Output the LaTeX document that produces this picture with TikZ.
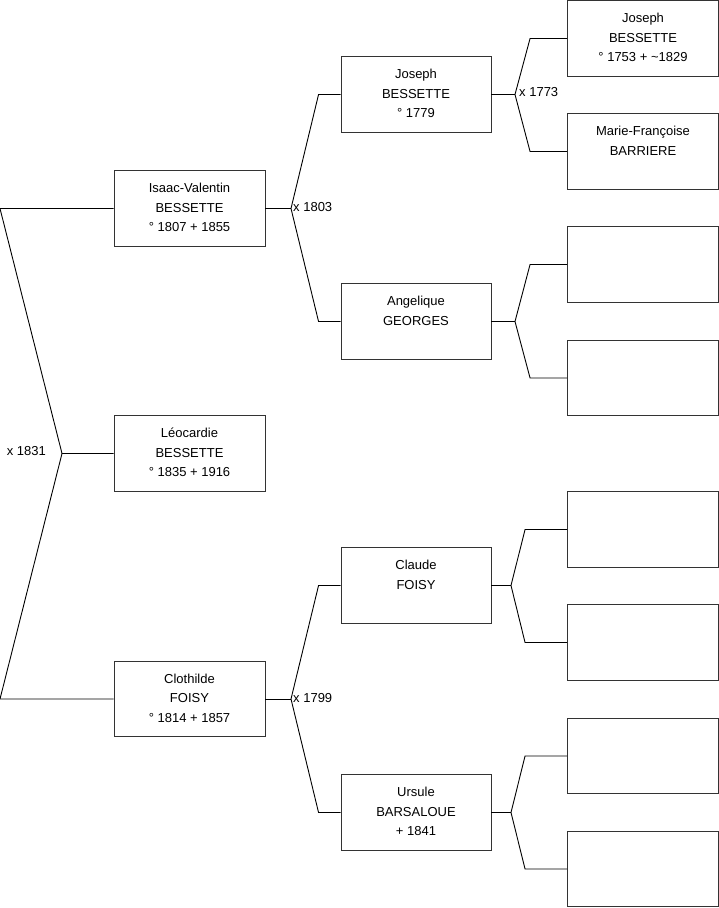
\documentclass[tikz,border=0pt]{standalone}
\usepackage{fontspec}
\setmainfont{Liberation Sans}
\newcommand{\fl}{\rule{0pt}{10pt}}
\begin{document}
\begin{tikzpicture}[x=1pt,y=-1pt,
  pbox/.style={draw=black!80,line width=0.9pt,rectangle,inner sep=0pt,minimum height=75.5pt},
  cw/.style={pbox,minimum width=151pt},
  ptext/.style={anchor=north,align=center,inner sep=0pt,yshift=-12pt,font=\fontsize{13}{19.5}\selectfont},
  conn/.style={draw=black,line width=0.9pt},
  mlabel/.style={font=\fontsize{13}{15}\selectfont,inner sep=0pt}]
\useasboundingbox (0,0) rectangle (719,908);
% column 1
\node[cw] (isaac) at (189.5,208.5) {};
\node[ptext] (isaacT) at (isaac.north) {\fl Isaac-Valentin\\BESSETTE\\° 1807 + 1855};
\node[cw] (leo) at (189.5,453.5) {};
\node[ptext] (leoT) at (leo.north) {\fl Léocardie\\BESSETTE\\° 1835 + 1916};
\node[cw] (clo) at (189.5,699) {};
\node[ptext] (cloT) at (clo.north) {\fl Clothilde\\FOISY\\° 1814 + 1857};
% column 2
\node[pbox,minimum width=150pt] (jos) at (416,94.5) {};
\node[ptext] (josT) at (jos.north) {\fl Joseph\\BESSETTE\\° 1779};
\node[pbox,minimum width=150pt] (ang) at (416,321.5) {};
\node[ptext] (angT) at (ang.north) {\fl Angelique\\GEORGES};
\node[pbox,minimum width=150pt] (cla) at (416,585.5) {};
\node[ptext] (claT) at (cla.north) {\fl Claude\\FOISY};
\node[pbox,minimum width=150pt] (urs) at (416,812.5) {};
\node[ptext] (ursT) at (urs.north) {\fl Ursule\\BARSALOUE\\+ 1841};
% column 3
\node[cw] (g1) at (643,38.5) {};
\node[ptext] (g1T) at (g1.north) {\fl Joseph\\BESSETTE\\° 1753 + \textasciitilde 1829};
\node[cw] (g2) at (643,151.5) {};
\node[ptext] (g2T) at (g2.north) {\fl Marie-Françoise\\BARRIERE};
\node[cw] (g3) at (643,264.5) {};
\node[cw] (g4) at (643,378) {};
\node[cw] (g5) at (643,529.5) {};
\node[cw] (g6) at (643,642.5) {};
\node[cw] (g7) at (643,756) {};
\node[cw] (g8) at (643,869) {};
% root connectors
\coordinate (rA) at (0,208.5);
\coordinate (rB) at (0,699);
\coordinate (j0) at (62,453.5);
\draw[conn] (isaac.west) -- (rA) -- (j0) -- (leo.west);
\draw[conn] (clo.west) -- (rB) -- (j0);
\node[mlabel,anchor=east] (m0) at (46,451.5) {x 1831};
% Isaac parents
\coordinate (j1) at (291,208.5);
\draw[conn] (isaac.east) -- (j1);
\draw[conn] (j1) -- ([xshift=-22pt]jos.west) -- (jos.west);
\draw[conn] (j1) -- ([xshift=-22pt]ang.west) -- (ang.west);
\node[mlabel,anchor=west] (m1) at (293,207.5) {x 1803};
% Clothilde parents
\coordinate (j2) at (291,699);
\draw[conn] (clo.east) -- (j2);
\draw[conn] (j2) -- ([xshift=-22pt]cla.west) -- (cla.west);
\draw[conn] (j2) -- ([xshift=-22pt]urs.west) -- (urs.west);
\node[mlabel,anchor=west] (m2) at (293,698) {x 1799};
% Joseph parents
\coordinate (j3) at (515,94.5);
\draw[conn] (jos.east) -- (j3);
\draw[conn] (j3) -- ([xshift=-37pt]g1.west) -- (g1.west);
\draw[conn] (j3) -- ([xshift=-37pt]g2.west) -- (g2.west);
\node[mlabel,anchor=west] (m3) at (519,92) {x 1773};
% Angelique parents
\coordinate (j4) at (515,321.5);
\draw[conn] (ang.east) -- (j4);
\draw[conn] (j4) -- ([xshift=-37pt]g3.west) -- (g3.west);
\draw[conn] (j4) -- ([xshift=-37pt]g4.west) -- (g4.west);
% Claude parents
\coordinate (j5) at (511,585.5);
\draw[conn] (cla.east) -- (j5);
\draw[conn] (j5) -- ([xshift=-42pt]g5.west) -- (g5.west);
\draw[conn] (j5) -- ([xshift=-42pt]g6.west) -- (g6.west);
% Ursule parents
\coordinate (j6) at (511,812.5);
\draw[conn] (urs.east) -- (j6);
\draw[conn] (j6) -- ([xshift=-42pt]g7.west) -- (g7.west);
\draw[conn] (j6) -- ([xshift=-42pt]g8.west) -- (g8.west);
\end{tikzpicture}
\end{document}
